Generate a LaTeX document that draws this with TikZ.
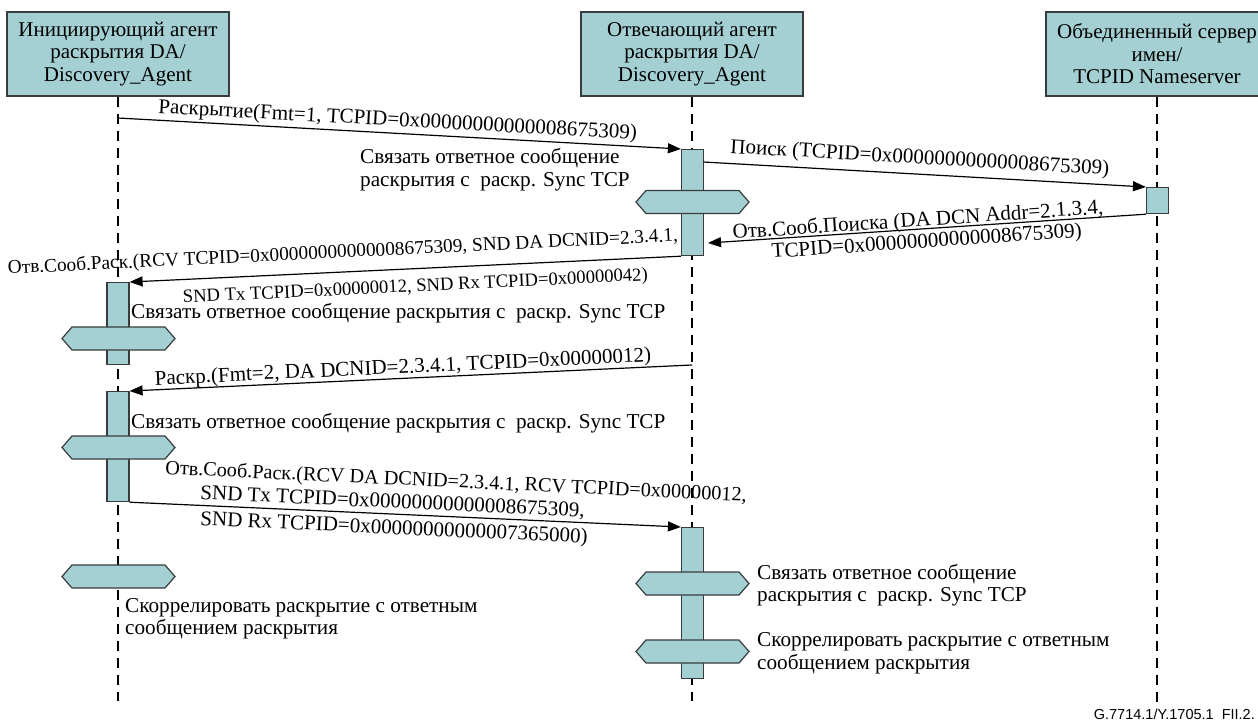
\documentclass[tikz,border=0pt]{standalone}
\usepackage{fontspec}
\setmainfont{Liberation Serif}
\setsansfont{Liberation Sans}
\usetikzlibrary{arrows.meta}
\definecolor{boxfill}{RGB}{165,208,211}
\definecolor{boxline}{RGB}{55,60,60}

% a hexagonal "action" bar centred on a lifeline
\newcommand{\actionbar}[2]{%
  \draw[hexbar] (#1-56.5,#2) -- (#1-46.5,#2-11.5) -- (#1+46.5,#2-11.5) -- (#1+56.5,#2)
    -- (#1+46.5,#2+11.5) -- (#1-46.5,#2+11.5) -- cycle;}
\newcommand{\fsz}[1]{\fontsize{#1}{22.5}\selectfont}

\begin{document}
\begin{tikzpicture}[x=1pt,y=-1pt,
  txt/.style={font=\fsz{21}, inner sep=0pt},
  head/.style={draw=boxline, line width=1.3pt, fill=boxfill, minimum width=222,
    minimum height=84, align=center, inner sep=0pt, font=\fsz{21}},
  life/.style={line width=1.5pt, dash pattern=on 10pt off 7pt},
  act/.style={draw=boxline, line width=1.2pt, fill=boxfill, minimum width=22,
    inner sep=0pt, anchor=north},
  hexbar/.style={draw=boxline, line width=1.2pt, fill=boxfill},
  msg/.style={line width=1.2pt, -{Triangle[length=13pt,width=10pt]}},
  lbl/.style={txt, anchor=base west},
  note/.style={txt, font=\fsz{21.2}, anchor=west, align=left}]
\useasboundingbox (0,0) rectangle (1258,724);

% participants
\node[head] (h1) at (118,54) {Инициирующий агент\\раскрытия DA/\\Discovery\_Agent};
\node[head] (h2) at (692,54) {Отвечающий агент\\раскрытия DA/\\Discovery\_Agent};
\node[head] (h3) at (1157,54) {Объединенный сервер\\имен/\\TCPID Nameserver};

% lifelines
\coordinate (e1) at (118,701);
\coordinate (e2) at (692,701);
\coordinate (e3) at (1157,705);
\draw[life] (h1.south) -- (e1);
\draw[life] (h2.south) -- (e2);
\draw[life] (h3.south) -- (e3);

% activation bars
\node[act, minimum height=106] (a2) at (692.5,149) {};
\node[act, minimum height=26] (a3) at (1157.5,187) {};
\node[act, minimum height=82] (a1) at (118,282) {};
\node[act, minimum height=110] (a4) at (118,391) {};
\node[act, minimum height=151] (a5) at (692.5,527) {};

% local actions
\actionbar{692.5}{202}
\actionbar{118.5}{338.5}
\actionbar{118.5}{447.5}
\actionbar{118.5}{576.5}
\actionbar{692.5}{583.5}
\actionbar{692.5}{651.5}

% messages
\coordinate (s1) at (118,118);
\coordinate (s2) at (703.5,162);
\coordinate (t3) at (708,243);
\coordinate (s5) at (692,365);
\draw[msg] (s1) -- (a2.north west);
\draw[msg] (s2) -- (a3.north west);
\draw[msg] (a3.south west) -- (t3);
\draw[msg] (a2.south west) -- (a1.north east);
\draw[msg] (s5) -- (a4.north east);
\draw[msg] (a4.south east) -- (a5.north west);

% message labels
\node[lbl, rotate=-3.15] (l1) at (158,113) {Раскрытие(Fmt=1, TCPID=0x00000000000008675309)};
\node[lbl, rotate=-3.3] (l2) at (730,153) {Поиск (TCPID=0x00000000000008675309)};
\node[lbl, rotate=3.9] (l3) at (733,239) {Отв.Сооб.Поиска (DA DCN Addr=2.1.3.4,};
\node[lbl, rotate=3.9] (l3b) at (772,258) {TCPID=0x00000000000008675309)};
\node[lbl, font=\fsz{19.3}, rotate=2.8] (l4) at (8,274) {Отв.Сооб.Раск.(RCV TCPID=0x00000000000008675309, SND DA DCNID=2.3.4.1,};
\node[lbl, font=\fsz{18.6}, rotate=2.8] (l4b) at (183,303) {SND Tx TCPID=0x00000012, SND Rx TCPID=0x00000042)};
\node[lbl, rotate=2.7] (l5) at (155,385) {Раскр.(Fmt=2, DA DCNID=2.3.4.1, TCPID=0x00000012)};
\node[lbl, font=\fsz{20.2}, rotate=-2.7] (l6) at (165,474) {Отв.Сооб.Раск.(RCV DA DCNID=2.3.4.1, RCV TCPID=0x00000012,};
\node[lbl, rotate=-2.7] (l6b) at (200,499) {SND Tx TCPID=0x00000000000008675309,};
\node[lbl, rotate=-2.7] (l6c) at (200,525) {SND Rx TCPID=0x00000000000007365000)};

% action notes
\node[note] (n1) at (360,169.5) {Связать ответное сообщение\\раскрытия с~ раскр. Sync TCP};
\node[note] (n2) at (131,313) {Связать ответное сообщение раскрытия с~ раскр. Sync TCP};
\node[note] (n3) at (131,423) {Связать ответное сообщение раскрытия с~ раскр. Sync TCP};
\node[note] (n4) at (125,618.5) {Скоррелировать раскрытие с ответным\\сообщением раскрытия};
\node[note] (n5) at (757,585) {Связать ответное сообщение\\раскрытия с~ раскр. Sync TCP};
\node[note] (n6) at (757,653) {Скоррелировать раскрытие с ответным\\сообщением раскрытия};

% figure tag
\node[anchor=base east, inner sep=0pt, font=\sffamily\fontsize{14.5}{16}\selectfont] (tag)
  at (1255,719) {G.7714.1/Y.1705.1\ \ FII.2.};
\end{tikzpicture}
\end{document}
